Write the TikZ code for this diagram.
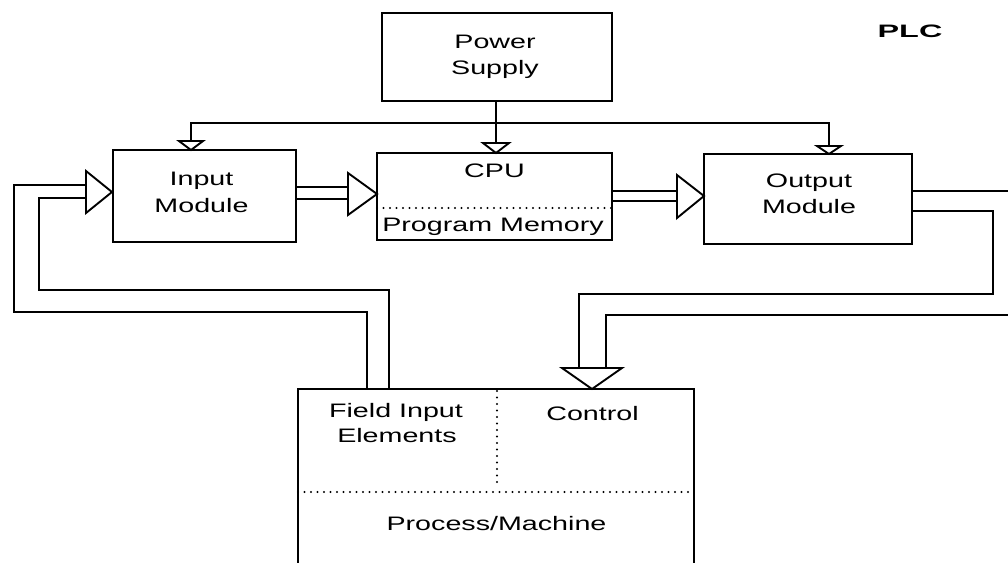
\documentclass[tikz,border=0pt]{standalone}
\usepackage{fontspec}
\setmainfont{Liberation Sans}
\usetikzlibrary{calc}
\newcommand\sx[1]{\scalebox{1.47}[1]{#1}}
\begin{document}
\begin{tikzpicture}[x=1pt,y=-1pt,
  ln/.style={line width=1.9pt, line join=miter},
  box/.style={draw, line width=1.9pt, inner sep=0pt, outer sep=0pt},
  lbl/.style={font=\fontsize{19.5}{25}\selectfont, inner sep=0pt, anchor=base},
  dots/.style={line width=2.3pt, dash pattern=on 0pt off 6.5pt, line cap=round},
  tri/.style={draw, line width=1.9pt, fill=white, line join=miter}]
\useasboundingbox (0,0) rectangle (1008,562);
\clip (0,0) rectangle (1008,562);

% boxes
\node[box, minimum width=230, minimum height=88] (ps) at (497,57) {};
\node[box, minimum width=183, minimum height=92] (in) at (204.5,196) {};
\node[box, minimum width=235, minimum height=87] (cpu) at (494.5,196.5) {};
\node[box, minimum width=208, minimum height=90] (out) at (808,199) {};
\node[box, minimum width=396, minimum height=240] (fld) at (496,509) {};

% labels
\node[lbl] (psA) at (495,48) {\sx{Power}};
\node[lbl] (psB) at (495,74) {\sx{Supply}};
\node[lbl] (inA) at (201.5,185) {\sx{Input}};
\node[lbl] (inB) at (201.5,212) {\sx{Module}};
\node[lbl] (cpuA) at (494.5,177) {\sx{CPU}};
\node[lbl] (cpuB) at (493,231) {\sx{Program Memory}};
\node[lbl] (outA) at (809,187) {\sx{Output}};
\node[lbl] (outB) at (809,213) {\sx{Module}};
\node[lbl] (fiA) at (396,417) {\sx{Field Input}};
\node[lbl] (fiB) at (397,442) {\sx{Elements}};
\node[lbl] (ctl) at (592.5,420) {\sx{Control}};
\node[lbl] (pm) at (496.5,530) {\sx{Process/Machine}};
\node[inner sep=0pt, anchor=base, font=\fontsize{18}{20}\bfseries] (plc) at (910,37) {\scalebox{1.8}[1]{PLC}};

% dotted separators
\draw[dots] (cpu.west |- 0,208) -- (cpu.east |- 0,208);
\draw[dots] (497,391) -- (497,487);
\draw[dots] (fld.west |- 0,492) -- (fld.east |- 0,492);

% coordinates
\coordinate (pin) at (191,150);
\coordinate (pcpu) at (496,153);
\coordinate (pout) at (829,154);
\coordinate (bus) at (496,123);
\coordinate (tIn) at (112,192);
\coordinate (tCpu) at (377,194);
\coordinate (tOut) at (704,196);
\coordinate (tCtl) at (592,389);
\coordinate (eA) at (1008,191);
\coordinate (eB) at (1008,315);

% power bus
\draw[ln] (ps.south -| pcpu) -- (pcpu);
\draw[ln] (pin) -- (pin |- bus) -- (pout |- bus) -- (pout);

% field input feedback
\draw[ln] ($(tIn)+(-26,-7)$) -- (14,185) -- (14,312) -- (367,312) -- (fld.north -| 367,0);
\draw[ln] ($(tIn)+(-26,6)$) -- (39,198) -- (39,290) -- (389,290) -- (fld.north -| 389,0);

% module to module
\draw[ln] (in.east |- 0,187) -- ($(tCpu)+(-29,-7)$);
\draw[ln] (in.east |- 0,199) -- ($(tCpu)+(-29,5)$);
\draw[ln] (cpu.east |- 0,191) -- ($(tOut)+(-27,-5)$);
\draw[ln] (cpu.east |- 0,201) -- ($(tOut)+(-27,5)$);

% outputs to control
\draw[ln] (out.east |- 0,191) -- (eA);
\draw[ln] (out.east |- 0,211) -- (993,211) -- (993,294) -- (579,294) -- (579,368);
\draw[ln] (eB) -- (606,315) -- (606,368);

% arrow heads
\draw[tri] ($(pin)+(-12,-9)$) -- ($(pin)+(12,-9)$) -- (pin) -- cycle;
\draw[tri] ($(pcpu)+(-13,-10)$) -- ($(pcpu)+(13,-10)$) -- (pcpu) -- cycle;
\draw[tri] ($(pout)+(-12,-8)$) -- ($(pout)+(12,-8)$) -- (pout) -- cycle;
\draw[tri] ($(tIn)+(-26,-21)$) -- ($(tIn)+(-26,21)$) -- (tIn) -- cycle;
\draw[tri] ($(tCpu)+(-29,-21)$) -- ($(tCpu)+(-29,21)$) -- (tCpu) -- cycle;
\draw[tri] ($(tOut)+(-27,-21)$) -- ($(tOut)+(-27,22)$) -- (tOut) -- cycle;
\draw[tri] ($(tCtl)+(-30,-21)$) -- ($(tCtl)+(30,-21)$) -- (tCtl) -- cycle;
\end{tikzpicture}
\end{document}
